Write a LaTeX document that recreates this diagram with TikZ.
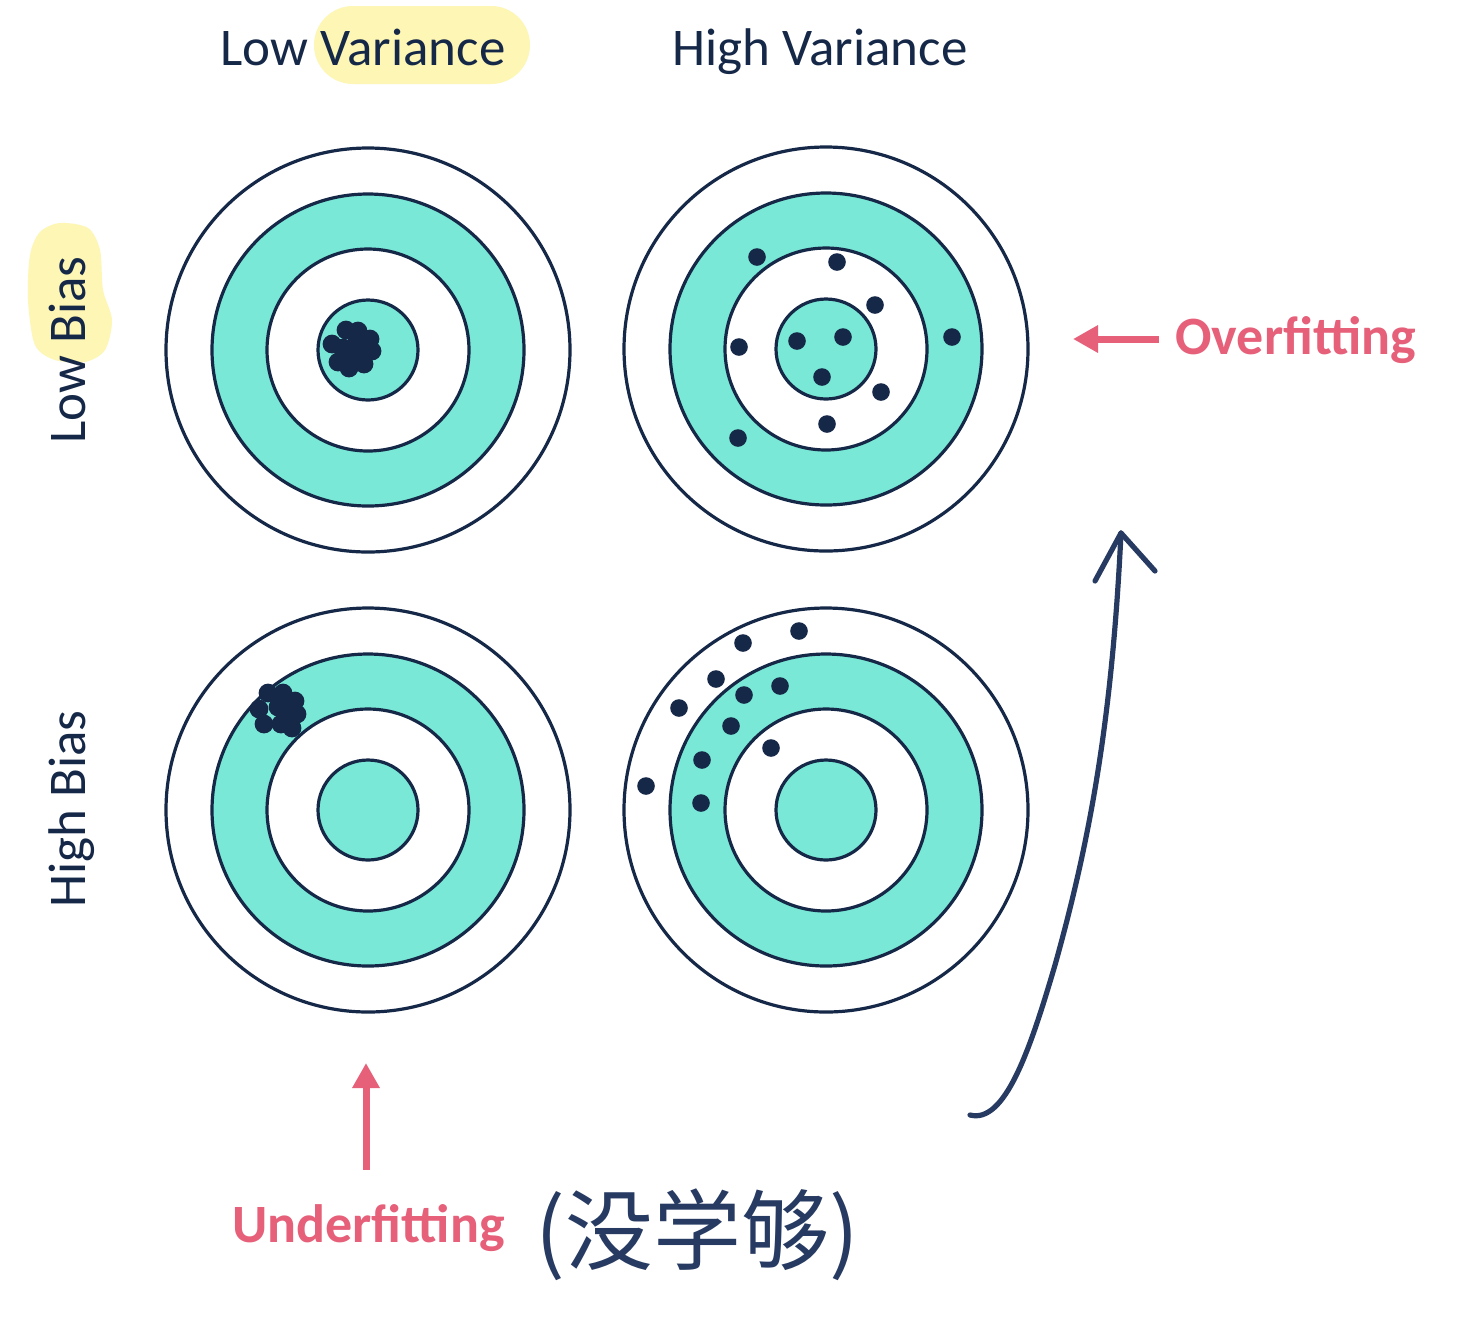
\documentclass[tikz,border=0pt]{standalone}
\usepackage{fontspec}
\setmainfont{Carlito}
\newfontfamily\cjk{Noto Sans CJK SC}
\usetikzlibrary{arrows.meta}
\definecolor{navy}{RGB}{22,40,72}
\definecolor{targetteal}{RGB}{122,232,214}
\definecolor{pinkred}{RGB}{230,96,122}
\definecolor{hilite}{RGB}{253,246,180}
\definecolor{ink}{RGB}{38,58,98}
\tikzset{
  ring/.style={draw=navy, line width=1.6pt},
  target/.pic={
    \filldraw[ring, fill=white] (0,0) circle[radius=101pt];
    \filldraw[ring, fill=targetteal] (0,0) circle[radius=78pt];
    \filldraw[ring, fill=white] (0,0) circle[radius=50.5pt];
    \filldraw[ring, fill=targetteal] (0,0) circle[radius=25pt];
  },
  dot/.style={fill=navy},
  title/.style={text=navy, font=\fontsize{26.5}{30}\selectfont, anchor=base west, inner sep=0pt},
  side/.style={text=navy, font=\fontsize{26.5}{30}\selectfont, rotate=90, anchor=base, inner sep=0pt},
  fitlabel/.style={text=pinkred, font=\bfseries\fontsize{27}{30}\selectfont, anchor=base west, inner sep=0pt},
  fitarrow/.style={draw=pinkred, line width=3.5pt, -{Triangle[length=12.5pt,width=13pt]}},
  handink/.style={draw=ink, line width=2.6pt, line cap=round, line join=round}
}
\begin{document}
\begin{tikzpicture}[x=0.5pt,y=-0.5pt]
\fill[white] (0,0) rectangle (1466,1330);
\useasboundingbox (0,0) rectangle (1466,1330);

% highlights
\fill[hilite, rounded corners=19.5pt] (314,6) rectangle (530,84);
\fill[hilite] plot[smooth cycle] coordinates {(60,223) (88,228) (100,250) (103,290) (112,320) (105,350) (85,362) (55,360) (35,345) (28,300) (30,255) (40,232)};

% labels
\node[title] (lowvar) at (220,65) {Low Variance};
\node[title] (highvar) at (672,65) {High Variance};
\node[side] (lowbias) at (85,350) {Low Bias};
\node[side] (highbias) at (85,809) {High Bias};

% targets
\pic at (368,350) {target};
\pic at (826,349) {target};
\pic at (368,810) {target};
\pic at (826,810) {target};

% top-left cluster
\foreach \p in {(332,344),(346,330),(358,331),(370,339),(343,348),(356,344),(372,351),(338,362),(352,358),(364,364),(349,368),(362,352)}
  \fill[dot] \p circle[radius=4.7pt];
% top-right dots
\foreach \p in {(757,257),(837,262),(875,305),(739,347),(797,341),(843,337),(952,337),(822,377),(881,392),(827,424),(738,438)}
  \fill[dot] \p circle[radius=4.4pt];
% bottom-left cluster
\foreach \p in {(268,693),(283,693),(295,701),(259,709),(278,707),(297,714),(264,724),(281,724),(292,728),(287,712)}
  \fill[dot] \p circle[radius=4.7pt];
% bottom-right dots
\foreach \p in {(799,631),(743,643),(716,679),(780,686),(744,695),(679,708),(731,726),(771,748),(702,760),(646,786),(701,803)}
  \fill[dot] \p circle[radius=4.4pt];

% overfitting / underfitting
\node[fitlabel] (over) at (1175,354) {Overfitting};
\coordinate (overtail) at (1159,339);
\coordinate (overtip) at (1073,339);
\draw[fitarrow] (overtail) -- (overtip);

\node[fitlabel] (under) at (232,1242) {Underfitting};
\coordinate (undertail) at (366,1170);
\coordinate (undertip) at (366,1063);
\draw[fitarrow] (undertail) -- (undertip);

% handwritten note
\node[text=ink, font=\cjk\fontsize{44}{44}\selectfont, anchor=base west, inner sep=0pt] (note) at (535,1263) {(没学够)};

% handwritten arrow
\coordinate (hstart) at (970,1115);
\coordinate (hmid) at (1055,965);
\coordinate (htip) at (1121,533);
\draw[handink] (hstart) .. controls (1005,1124) and (1030,1050) .. (hmid)
  .. controls (1090,840) and (1112,720) .. (htip);
\draw[handink] (1095,581) -- (htip) -- (1155,571);
\end{tikzpicture}
\end{document}
